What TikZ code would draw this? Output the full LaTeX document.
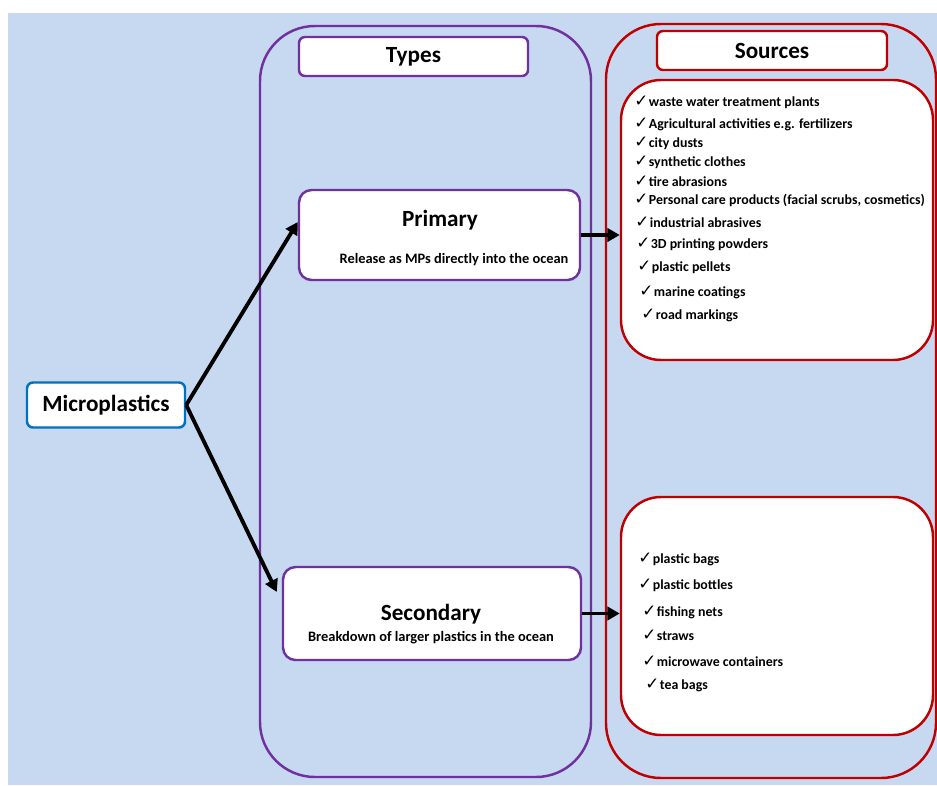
\documentclass[tikz,border=0pt]{standalone}
\usepackage{fontspec}
\setmainfont{Carlito}
\newfontfamily\symfont{DejaVu Sans}
\usepackage{tikz}
\usetikzlibrary{arrows.meta}
\definecolor{bgblue}{RGB}{198,217,240}
\definecolor{typepurple}{RGB}{112,48,160}
\definecolor{srcred}{RGB}{192,0,0}
\definecolor{mpblue}{RGB}{0,112,192}
\newcommand{\px}{0.02cm}
\newcommand{\boxw}{1.4pt}
\newcommand{\chk}{{\symfont\bfseries\fontsize{9.5}{9}\selectfont ✓}\hspace{0.3pt}}

\begin{document}
\begin{tikzpicture}[x=0.02cm, y=-0.02cm]
            \tikzset{box/.style = {draw, fill=white, line width=\boxw, inner sep=0pt},
                     bigbox/.style = {draw, line width=\boxw, rounded corners=1.1cm, inner sep=0pt},
                     title/.style = {font=\fontsize{13.2}{15}\selectfont\bfseries},
                     subtitle/.style = {font=\fontsize{8.2}{9}\selectfont\bfseries},
                     item/.style = {anchor=west, inner sep=0pt, font=\fontsize{7.9}{9}\selectfont\bfseries},
                     link/.style = {line width=2.2pt, -{Triangle[length=7pt,width=7.5pt]}}}
            \useasboundingbox (0,0) rectangle (937,785);
            \fill[bgblue] (8,13) rectangle (937,785);
                %\draw[help lines] (0,0) grid[step=50] (937,785);
                \node[bigbox, draw=typepurple, minimum width=331*\px, minimum height=751*\px] (types) at (425.5,401.5) {};
                \node[bigbox, draw=srcred, minimum width=330*\px, minimum height=754*\px] (sources) at (771,401) {};
                \node[box, draw=typepurple, rounded corners=0.12cm, minimum width=229*\px, minimum height=39*\px, title] (typeslbl) at (413.5,56.5) {Types};
                \node[box, draw=srcred, rounded corners=0.12cm, minimum width=230*\px, minimum height=39*\px, title] (srclbl) at (772,50.5) {Sources};
                \node[box, draw=srcred, rounded corners=0.8cm, minimum width=312*\px, minimum height=280*\px] (primsrc) at (777,220) {};
                \node[box, draw=srcred, rounded corners=0.8cm, minimum width=312*\px, minimum height=238*\px] (secsrc) at (777,616) {};
                \node[box, draw=typepurple, rounded corners=0.25cm, minimum width=281*\px, minimum height=90*\px] (prim) at (439.5,235) {};
                \node[box, draw=typepurple, rounded corners=0.25cm, minimum width=298*\px, minimum height=93*\px] (sec) at (432,613.5) {};
                \node[box, draw=mpblue, rounded corners=0.12cm, minimum width=158*\px, minimum height=45*\px, title] (mp) at (106,405) {Microplastics};
                \node[title] (primtitle) at (440,220) {Primary};
                \node[subtitle] (primsub) at (454,260) {Release as MPs directly into the ocean};
                \node[title] (sectitle) at (431,614) {Secondary};
                \node[subtitle] (secsub) at (431,638) {Breakdown of larger plastics in the ocean};
                    \foreach \x/\y/\txt [count=\i] in {634/102/waste water treatment plants,
                                                       634/124/Agricultural activities e.g. fertilizers,
                                                       634/143/city dusts,
                                                       634/162/synthetic clothes,
                                                       634/181/tire abrasions,
                                                       {634/200/Personal care products (facial scrubs, cosmetics)},
                                                       635/222/industrial abrasives,
                                                       636/244/3D printing powders,
                                                       637/267/plastic pellets,
                                                       639/292/marine coatings,
                                                       641/315/road markings} {
                        \node[item] (pitem\i) at (\x,\y) {\chk\txt};
                    }
                    \foreach \x/\y/\txt [count=\i] in {638/559/plastic bags,
                                                       638/585/plastic bottles,
                                                       642/612/fishing nets,
                                                       642/635/straws,
                                                       642/661/microwave containers,
                                                       645/685/tea bags} {
                        \node[item] (sitem\i) at (\x,\y) {\chk\txt};
                    }
                \draw[link] (mp.east) -- ([yshift=0.26cm]prim.west);
                \draw[link] (mp.east) -- ([shift={(-0.1cm,0.43cm)}]sec.west);
                \draw[link] (prim.east) -- (primsrc.west |- prim.east);
                \draw[link] (sec.east) -- (secsrc.west |- sec.east);
        \end{tikzpicture}
\end{document}
